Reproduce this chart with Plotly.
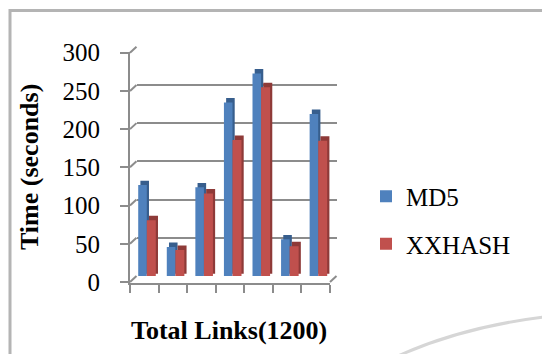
import plotly.graph_objects as go

# Hashing time per link batch (seconds)
groups = ["1", "2", "3", "4", "5", "6", "7"]
md5_times = [119, 38, 116, 227, 265, 48, 212]
xxhash_times = [73, 34, 108, 178, 247, 39, 177]
y_ticks = [0, 50, 100, 150, 200, 250, 300]

W, H = 542, 354

# pseudo-3D geometry in pixels
FRONT_X0, FRONT_X1 = 130, 330
FRONT_Y0, FRONT_Y1 = 282, 52.7      # pixel rows of 0 and 300 on the front axis
DX, DY = 6.5, 6.0                     # depth offset of the back wall
BACK_X0, BACK_X1 = FRONT_X0 + DX, FRONT_X1 + DX
BACK_Y0, BACK_Y1 = FRONT_Y0 - DY, FRONT_Y1 - DY
PAD = 1.0                             # value padding so edge gridlines are kept

GRID = "#8c8c8c"
BLUE, BLUE_SIDE = "#4f81bd", "#375e8d"
RED, RED_SIDE = "#c0504d", "#8e3a38"
FONT = "Liberation Serif"


def px(x):
    return x / W


def py(y):
    return 1 - y / H


n = len(groups)
cat = list(range(n))
unit_px = (BACK_X1 - BACK_X0) / n
val_px = (BACK_Y0 - BACK_Y1) / 300
side_w = 2.2 / unit_px
lift = 2.2 / val_px

fig = go.Figure()

# front axis frame (carries the tick labels)
fig.add_trace(go.Scatter(x=[], y=[], xaxis="x", yaxis="y",
                         showlegend=False, hoverinfo="skip"))


def add_series(name, values, front, side, offset, width):
    # darker body shifted up/right gives the side and top faces
    fig.add_trace(go.Bar(
        x=cat, y=[v + lift for v in values], base=[lift] * n,
        offset=offset + side_w, width=width, marker_color=side,
        marker_line_width=0, xaxis="x2", yaxis="y2",
        showlegend=False, hoverinfo="skip"))
    fig.add_trace(go.Bar(
        x=cat, y=values, offset=offset, width=width, name=name,
        marker_color=front, marker_line_width=0, xaxis="x2", yaxis="y2",
        legendgroup=name))


add_series("MD5", md5_times, BLUE, BLUE_SIDE, -0.44, 0.30)
add_series("XXHASH", xxhash_times, RED, RED_SIDE, -0.14, 0.315)

shapes = []
# connectors from front axis ticks to back wall gridlines
for v in y_ticks:
    fy = FRONT_Y0 - (FRONT_Y0 - FRONT_Y1) * v / 300
    shapes.append(dict(type="line", xref="paper", yref="paper",
                       x0=px(FRONT_X0), y0=py(fy), x1=px(BACK_X0), y1=py(fy - DY),
                       line=dict(color=GRID, width=2)))
# right edge of the floor
shapes.append(dict(type="line", xref="paper", yref="paper",
                   x0=px(FRONT_X1), y0=py(FRONT_Y0), x1=px(BACK_X1), y1=py(BACK_Y0),
                   line=dict(color=GRID, width=2)))
# outer frame
shapes.append(dict(type="line", xref="paper", yref="paper",
                   x0=px(10), y0=py(10.5), x1=1, y1=py(10.5),
                   line=dict(color="#b4b4b4", width=3)))
shapes.append(dict(type="line", xref="paper", yref="paper",
                   x0=px(10), y0=py(9), x1=px(10), y1=0,
                   line=dict(color="#b4b4b4", width=3)))
# page swoosh at the bottom right
shapes.append(dict(type="path", xref="paper", yref="paper",
                   path=f"M {px(398)},{py(356)} Q {px(462)},{py(327)} {px(544)},{py(317)}",
                   line=dict(color="#d6d6d6", width=3)))

fpx = (FRONT_Y0 - FRONT_Y1) / 300
bpx = (BACK_Y0 - BACK_Y1) / 300

fig.update_layout(
    width=W, height=H, autosize=False,
    margin=dict(l=0, r=0, t=0, b=0, pad=0, autoexpand=False),
    paper_bgcolor="white", plot_bgcolor="rgba(0,0,0,0)",
    barmode="overlay",
    font=dict(family=FONT, color="black"),
    showlegend=True,
    legend=dict(x=px(366), xanchor="left", y=py(220), yanchor="middle",
                font=dict(family=FONT, size=25, color="black"),
                traceorder="grouped", tracegroupgap=12,
                bgcolor="rgba(0,0,0,0)", borderwidth=0),
    xaxis=dict(domain=[px(FRONT_X0), px(FRONT_X1)], range=[-0.5, n - 0.5],
               showline=True, linecolor=GRID, linewidth=2, automargin=False,
               tickvals=[i - 0.5 for i in range(n + 1)], ticktext=[""] * (n + 1),
               ticks="outside", ticklen=8, tickwidth=2, tickcolor=GRID,
               showgrid=False, zeroline=False, fixedrange=True),
    yaxis=dict(domain=[py(FRONT_Y0 + PAD * fpx), py(FRONT_Y1 - PAD * fpx)],
               range=[-PAD, 300 + PAD], automargin=False,
               showline=True, linecolor=GRID, linewidth=2,
               tickvals=y_ticks, ticks="outside", ticklen=8, tickwidth=2,
               tickcolor=GRID, ticklabelstandoff=15,
               tickfont=dict(family=FONT, size=25, color="black"),
               showgrid=False, zeroline=False, fixedrange=True),
    xaxis2=dict(domain=[px(BACK_X0), px(BACK_X1)], range=[-0.5, n - 0.5],
                anchor="y2", showticklabels=False, showgrid=False, automargin=False,
                zeroline=False, showline=False, fixedrange=True),
    yaxis2=dict(domain=[py(BACK_Y0 + PAD * bpx), py(BACK_Y1 - PAD * bpx)],
                range=[-PAD, 300 + PAD], automargin=False,
                anchor="x2", tickvals=y_ticks, showticklabels=False,
                showgrid=True, gridcolor=GRID, gridwidth=2,
                zeroline=False, showline=False, fixedrange=True),
    shapes=shapes,
    annotations=[
        dict(text="<b>Time (seconds)</b>", xref="paper", yref="paper",
             x=px(30), y=py(167), textangle=-90, showarrow=False,
             xanchor="center", yanchor="middle",
             font=dict(family=FONT, size=26, color="black")),
        dict(text="<b>Total Links(1200)</b>", xref="paper", yref="paper",
             x=px(229), y=py(330.5), showarrow=False,
             xanchor="center", yanchor="middle",
             font=dict(family=FONT, size=26, color="black")),
    ],
)

fig.write_html("out.html")
